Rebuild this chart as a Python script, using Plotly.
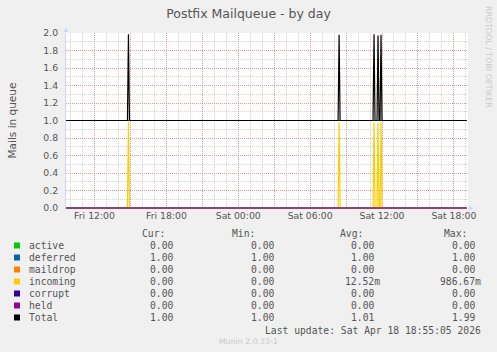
import plotly.graph_objects as go
import pandas as pd

# ---------------- data ----------------
series_names = ["active", "deferred", "maildrop", "incoming", "corrupt", "held", "Total"]
series_colors = ["#00CC00", "#0066B3", "#FF8000", "#FFCC00", "#330099", "#990099", "#000000"]

time_start = "2026-04-17 09:35"
time_end = "2026-04-18 19:05"

# incoming spikes (5-minute samples), otherwise 0
incoming_spike_times = ["2026-04-17 14:50", "2026-04-18 08:25", "2026-04-18 11:20",
                        "2026-04-18 11:40", "2026-04-18 11:55"]
incoming_spike_values = [0.98667, 0.98, 0.98667, 0.97, 0.98]

deferred_level = 1.0
zero_level = 0.0

stat_cur = ["0.00", "1.00", "0.00", "0.00", "0.00", "0.00", "1.00"]
stat_min = ["0.00", "1.00", "0.00", "0.00", "0.00", "0.00", "1.00"]
stat_avg = ["0.00", "1.00", "0.00", "12.52m", "0.00", "0.00", "1.01"]
stat_max = ["0.00", "1.00", "0.00", "986.67m", "0.00", "0.00", "1.99"]

x_tick_vals = ["2026-04-17 12:00", "2026-04-17 15:00", "2026-04-17 18:00", "2026-04-17 21:00",
               "2026-04-18 00:00", "2026-04-18 03:00", "2026-04-18 06:00", "2026-04-18 09:00",
               "2026-04-18 12:00", "2026-04-18 15:00", "2026-04-18 18:00"]
x_tick_text = ["Fri 12:00", "", "Fri 18:00", "", "Sat 00:00", "", "Sat 06:00", "", "Sat 12:00", "", "Sat 18:00"]
y_tick_vals = [0.0, 0.2, 0.4, 0.6, 0.8, 1.0, 1.2, 1.4, 1.6, 1.8, 2.0]

title_text = "Postfix Mailqueue - by day"
y_title = "Mails in queue"
last_update = "Last update: Sat Apr 18 18:55:05 2026"
watermark = "Munin 2.0.33-1"
side_text = "RRDTOOL / TOBI OETIKER"

# ---------------- build series ----------------
step = pd.Timedelta(minutes=5)
inc_x = [pd.Timestamp(time_start)]
inc_y = [zero_level]
for t, v in zip(incoming_spike_times, incoming_spike_values):
    ts = pd.Timestamp(t)
    inc_x += [ts - step, ts, ts + step]
    inc_y += [zero_level, v, zero_level]
inc_x.append(pd.Timestamp(time_end))
inc_y.append(zero_level)
total_y = [deferred_level + v for v in inc_y]

flat_x = [pd.Timestamp(time_start), pd.Timestamp(time_end)]

series = {
    "active": (flat_x, [zero_level, zero_level]),
    "deferred": (flat_x, [deferred_level, deferred_level]),
    "maildrop": (flat_x, [zero_level, zero_level]),
    "incoming": (inc_x, inc_y),
    "corrupt": (flat_x, [zero_level, zero_level]),
    "held": (flat_x, [zero_level, zero_level]),
    "Total": (inc_x, total_y),
}

# ---------------- layout geometry ----------------
W, H = 497, 352
L, R, T, B = 66, 29, 33, 143
PW, PH = W - L - R, H - T - B


def px_x(p):
    return (p - L) / PW


def px_y(p):
    return (H - B - p) / PH


fig = go.Figure()
for name, color in zip(series_names, series_colors):
    xs, ys = series[name]
    fig.add_trace(go.Scatter(
        x=xs, y=ys, mode="lines", name=name,
        line=dict(color=color, width=1.2),
        opacity=0.55 if name == "held" else 1.0,
        showlegend=False, hoverinfo="skip",
    ))

FONT_COLOR = "#555555"
MONO = "DejaVu Sans Mono"
SANS = "DejaVu Sans"
grid_minor = "rgba(143,143,143,0.38)"
grid_major = "rgba(222,79,79,0.42)"
axis_col = "#CFD6F8"

fig.update_layout(
    width=W, height=H,
    margin=dict(l=L, r=R, t=T, b=B, pad=0),
    paper_bgcolor="#F0F0F0", plot_bgcolor="#FFFFFF",
    font=dict(family=SANS, size=9.3, color=FONT_COLOR),
    title=dict(text=title_text, font=dict(family=SANS, size=12.5, color=FONT_COLOR),
               xref="container", yref="container", x=0.5, xanchor="center",
               y=1 - 13.3 / H, yanchor="middle"),
    showlegend=False,
)

fig.update_xaxes(
    type="date",
    range=["2026-04-17 09:37:15", "2026-04-18 19:10:40"],
    tickmode="array", tickvals=x_tick_vals, ticktext=x_tick_text,
    showgrid=True, gridcolor=grid_major, griddash="1px,1px", gridwidth=1,
    minor=dict(tickmode="linear", tick0="2026-04-17 00:00", dtick=3600000,
               showgrid=True, gridcolor=grid_minor, griddash="1px,1px", gridwidth=1),
    showline=False, zeroline=False, ticks="",
    tickfont=dict(family=SANS, size=9.3, color=FONT_COLOR),
)
fig.update_yaxes(
    range=[-1 / 87.5, 2.0],
    tickmode="array", tickvals=y_tick_vals, ticktext=[f"{v:.1f}" for v in y_tick_vals],
    showgrid=True, gridcolor=grid_major, griddash="1px,1px", gridwidth=1,
    minor=dict(tickmode="linear", tick0=0, dtick=0.1,
               showgrid=True, gridcolor=grid_minor, griddash="1px,1px", gridwidth=1),
    showline=True, linecolor=axis_col, linewidth=1, zeroline=False, ticks="",
    ticklabelstandoff=5,
    tickfont=dict(family=SANS, size=9.3, color=FONT_COLOR),
    title=None,
)

shapes = []
# arrows
shapes.append(dict(type="path", xref="paper", yref="paper", xsizemode="pixel", ysizemode="pixel",
                   xanchor=0, yanchor=1, path="M -2.5,1 L 2.5,1 L 0,6 Z",
                   fillcolor=axis_col, line=dict(width=0), layer="above"))
shapes.append(dict(type="path", xref="paper", yref="paper", xsizemode="pixel", ysizemode="pixel",
                   xanchor=1, yanchor=px_y(208), path="M 1,-2.5 L 1,2.5 L 6,0 Z",
                   fillcolor=axis_col, line=dict(width=0), layer="above"))

annotations = []
# y-axis title placed manually
annotations.append(dict(text=y_title, xref="paper", yref="paper", x=px_x(11), y=px_y(120.5),
                        showarrow=False, textangle=-90, xanchor="center", yanchor="middle",
                        font=dict(family=SANS, size=10.5, color=FONT_COLOR)))
# side watermark
annotations.append(dict(text=side_text, xref="paper", yref="paper", x=px_x(489), y=px_y(57),
                        showarrow=False, textangle=90, xanchor="center", yanchor="middle",
                        font=dict(family=SANS, size=7.9, color="#C8C8C8")))

# legend block
row_y0 = 245.5
row_dy = 12
headers = [("Cur:", 167), ("Min:", 257.3), ("Avg:", 365.3), ("Max:", 469)]
for txt, xr in headers:
    annotations.append(dict(text=txt, xref="paper", yref="paper", x=px_x(xr), y=px_y(233.5),
                            showarrow=False, xanchor="right", yanchor="middle",
                            font=dict(family=MONO, size=9.7, color=FONT_COLOR)))

col_right = [181, 282, 382.3, 483]
cols = [stat_cur, stat_min, stat_avg, stat_max]
for i, (name, color) in enumerate(zip(series_names, series_colors)):
    cy = row_y0 + i * row_dy
    shapes.append(dict(type="rect", xref="paper", yref="paper",
                       x0=px_x(14), x1=px_x(20), y0=px_y(cy + 3), y1=px_y(cy - 3),
                       fillcolor=color, line=dict(width=0)))
    annotations.append(dict(text=name, xref="paper", yref="paper", x=px_x(26.5), y=px_y(cy),
                            showarrow=False, xanchor="left", yanchor="middle",
                            font=dict(family=MONO, size=9.7, color=FONT_COLOR)))
    for col, xr in zip(cols, col_right):
        val = col[i]
        txt = val if val.endswith("m") else val + "\u00a0"
        annotations.append(dict(text=txt, xref="paper", yref="paper", x=px_x(xr), y=px_y(cy),
                                showarrow=False, xanchor="right", yanchor="middle",
                                font=dict(family=MONO, size=9.7, color=FONT_COLOR)))

annotations.append(dict(text=last_update, xref="paper", yref="paper", x=px_x(482.5), y=px_y(330.5),
                        showarrow=False, xanchor="right", yanchor="middle",
                        font=dict(family=MONO, size=9.7, color=FONT_COLOR)))
annotations.append(dict(text=watermark, xref="paper", yref="paper", x=px_x(248.5), y=px_y(341),
                        showarrow=False, xanchor="center", yanchor="middle",
                        font=dict(family=SANS, size=7.8, color="#C8C8C8")))

fig.update_layout(shapes=shapes, annotations=annotations)
fig.write_html("out.html")
